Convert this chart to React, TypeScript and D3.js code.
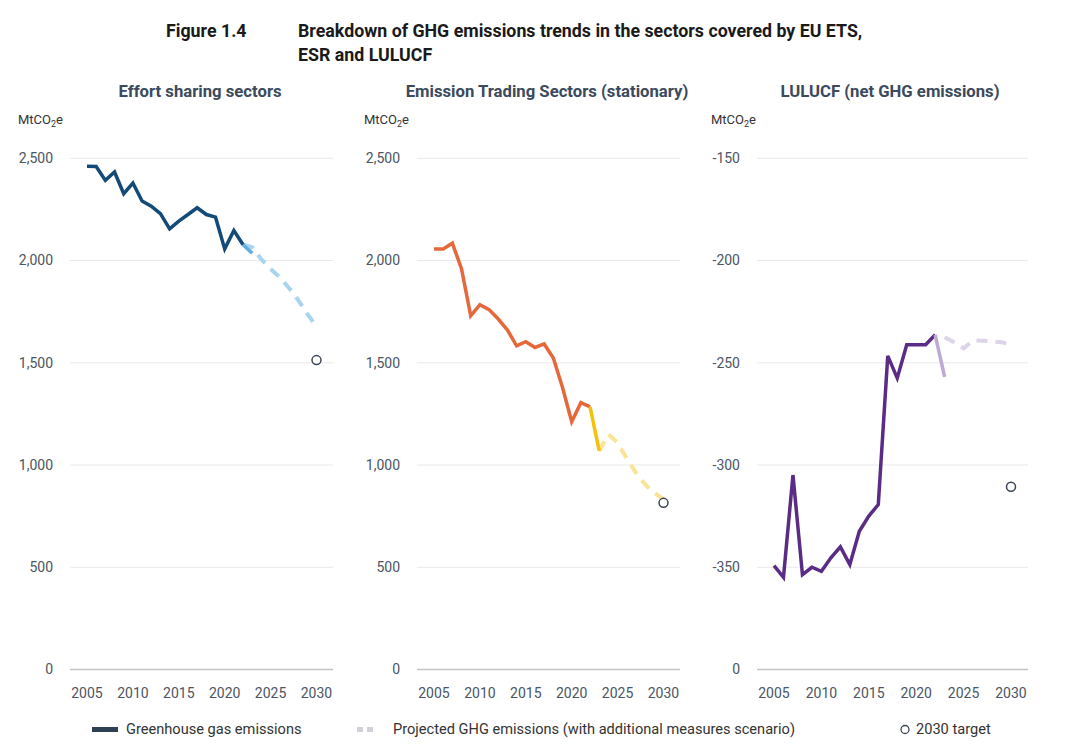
import React from "react";
import * as d3 from "d3";

const histYears = d3.range(2005, 2023);
const esrHist = [2461, 2460, 2392, 2433, 2327, 2379, 2291, 2266, 2229, 2155, 2193, 2225, 2258, 2225, 2212, 2057, 2147, 2077];
const esrProxyYears = [2022, 2023];
const esrProxy = [2077, 2036];
const esrProjYears = [2022, 2023, 2024, 2025, 2026, 2027, 2028, 2029, 2030];
const esrProj = [2077, 2065, 2005, 1959, 1918, 1866, 1807, 1739, 1678];
const esrTarget = 1513;

const etsHist = [2057, 2057, 2085, 1959, 1730, 1784, 1760, 1714, 1660, 1583, 1603, 1575, 1592, 1523, 1379, 1212, 1305, 1284];
const etsProxyYears = [2022, 2023];
const etsProxy = [1284, 1069];
const etsProjYears = [2023, 2024, 2025, 2026, 2027, 2028, 2029, 2030];
const etsProj = [1069, 1150, 1109, 1031, 962, 905, 864, 832];
const etsTarget = 815;

const lulHist = [-349.2, -354.9, -304.9, -353.6, -350, -352, -345.4, -340, -348.7, -332.4, -325, -319.3, -246.6, -257.5, -241.2, -241.2, -241.2, -236.3];
const lulProxyYears = [2022, 2023];
const lulProxy = [-236.3, -256.9];
const lulProjYears = [2023, 2024, 2025, 2026, 2027, 2028, 2029, 2030];
const lulProj = [-237.5, -240, -243, -239, -239.2, -239.5, -240, -241];
const lulTarget = -310.6;

const xTicks = [2005, 2010, 2015, 2020, 2025, 2030];
const emTicks = [0, 500, 1000, 1500, 2000, 2500];
const emTickLabels = ["0", "500", "1,000", "1,500", "2,000", "2,500"];
const lulTicks = [-400, -350, -300, -250, -200, -150];
const lulTickLabels = ["0", "-350", "-300", "-250", "-200", "-150"];

const panelTitles = ["Effort sharing sectors", "Emission Trading Sectors (stationary)", "LULUCF (net GHG emissions)"];

const FONT = "Roboto, 'Noto Sans', sans-serif";
const TICK_COLOR = "#4b5563";

type Panel = {
  title: string;
  gridL: number;
  gridR: number;
  x0: number;
  x1: number;
  labelRight: number;
  unitX: number;
  titleX: number;
  domain: [number, number];
  ticks: number[];
  tickLabels: string[];
  hist: number[];
  proxyYears: number[];
  proxy: number[];
  projYears: number[];
  proj: number[];
  target: number;
  cHist: string;
  cProxy: string;
  cProj: string;
};

const panels: Panel[] = [
  {
    title: panelTitles[0], gridL: 70, gridR: 333, x0: 87, x1: 316.5, labelRight: 53, unitX: 18, titleX: 200,
    domain: [0, 2500], ticks: emTicks, tickLabels: emTickLabels,
    hist: esrHist, proxyYears: esrProxyYears, proxy: esrProxy, projYears: esrProjYears, proj: esrProj, target: esrTarget,
    cHist: "#134a78", cProxy: "#62acdf", cProj: "#a9d4f0",
  },
  {
    title: panelTitles[1], gridL: 417, gridR: 680, x0: 434, x1: 663.5, labelRight: 400, unitX: 364, titleX: 547,
    domain: [0, 2500], ticks: emTicks, tickLabels: emTickLabels,
    hist: etsHist, proxyYears: etsProxyYears, proxy: etsProxy, projYears: etsProjYears, proj: etsProj, target: etsTarget,
    cHist: "#e4683a", cProxy: "#f5c20a", cProj: "#f9e495",
  },
  {
    title: panelTitles[2], gridL: 757, gridR: 1028, x0: 774, x1: 1011, labelRight: 740, unitX: 711, titleX: 890,
    domain: [-400, -150], ticks: lulTicks, tickLabels: lulTickLabels,
    hist: lulHist, proxyYears: lulProxyYears, proxy: lulProxy, projYears: lulProjYears, proj: lulProj, target: lulTarget,
    cHist: "#5b2c86", cProxy: "#bcaad2", cProj: "#ddd4e9",
  },
];

const Y_TOP = 158.3;
const Y_BOT = 669.5;

function PanelView({ p }: { p: Panel }) {
  const x = d3.scaleLinear().domain([2005, 2030]).range([p.x0, p.x1]);
  const y = d3.scaleLinear().domain(p.domain).range([Y_BOT, Y_TOP]);
  const line = d3.line<[number, number]>().x((d) => x(d[0])).y((d) => y(d[1]));
  const histPath = line(histYears.map((yr, i) => [yr, p.hist[i]]))!;
  const proxyPath = line(p.proxyYears.map((yr, i) => [yr, p.proxy[i]]))!;
  const projPath = line(p.projYears.map((yr, i) => [yr, p.proj[i]]))!;
  return (
    <g>
      <text x={p.titleX} y={97} textAnchor="middle" fontFamily={FONT} fontWeight={700} fontSize={16.7} fill="#3b4a5c">
        {p.title}
      </text>
      <text x={p.unitX} y={124} fontFamily={FONT} fontSize={13} fill="#333">
        MtCO<tspan fontSize={9} dy={3}>2</tspan><tspan dy={-3}>e</tspan>
      </text>
      {p.ticks.map((t, i) => (
        <g key={t}>
          <line
            x1={p.gridL}
            x2={p.gridR}
            y1={y(t)}
            y2={y(t)}
            stroke={i === 0 ? "#c4c4c4" : "#e9e9e9"}
            strokeWidth={i === 0 ? 1.5 : 1}
          />
          <text x={p.labelRight} y={y(t)} dy="0.35em" textAnchor="end" fontFamily={FONT} fontSize={14} fill={TICK_COLOR}>
            {p.tickLabels[i]}
          </text>
        </g>
      ))}
      {xTicks.map((t) => (
        <text key={t} x={x(t)} y={698} textAnchor="middle" fontFamily={FONT} fontSize={14} fill={TICK_COLOR}>
          {t}
        </text>
      ))}
      <path d={projPath} fill="none" stroke={p.cProj} strokeWidth={4} strokeDasharray="11 8" />
      <path d={histPath} fill="none" stroke={p.cHist} strokeWidth={3.5} strokeLinejoin="miter" />
      <path d={proxyPath} fill="none" stroke={p.cProxy} strokeWidth={3.5} />
      <circle cx={x(2030)} cy={y(p.target)} r={4.5} fill="#fff" stroke="#3a4656" strokeWidth={1.5} />
    </g>
  );
}

export default function App() {
  return (
    <svg width={1080} height={753} style={{ display: "block", position: "absolute", left: 0, top: 0, background: "#fff" }}>
      <rect width={1080} height={753} fill="#fff" />
      <text x={166} y={37} fontFamily={FONT} fontWeight={700} fontSize={17.8} fill="#1a1a1a">Figure 1.4</text>
      <text x={298} y={37} fontFamily={FONT} fontWeight={700} fontSize={17.8} fill="#1a1a1a">
        Breakdown of GHG emissions trends in the sectors covered by EU ETS,
      </text>
      <text x={298} y={61} fontFamily={FONT} fontWeight={700} fontSize={17.8} fill="#1a1a1a">ESR and LULUCF</text>
      {panels.map((p) => (
        <PanelView key={p.title} p={p} />
      ))}
      <g fontFamily={FONT} fontSize={14.6} fill="#333">
        <rect x={92} y={727} width={26} height={5} fill="#2f4052" />
        <text x={126} y={734}>Greenhouse gas emissions</text>
        <rect x={357} y={727} width={6} height={5} fill="#cfd3d8" />
        <rect x={367} y={727} width={6} height={5} fill="#cfd3d8" />
        <text x={393} y={734}>Projected GHG emissions (with additional measures scenario)</text>
        <circle cx={905} cy={729.5} r={4} fill="#fff" stroke="#3a4656" strokeWidth={1.3} />
        <text x={916} y={734}>2030 target</text>
      </g>
    </svg>
  );
}
